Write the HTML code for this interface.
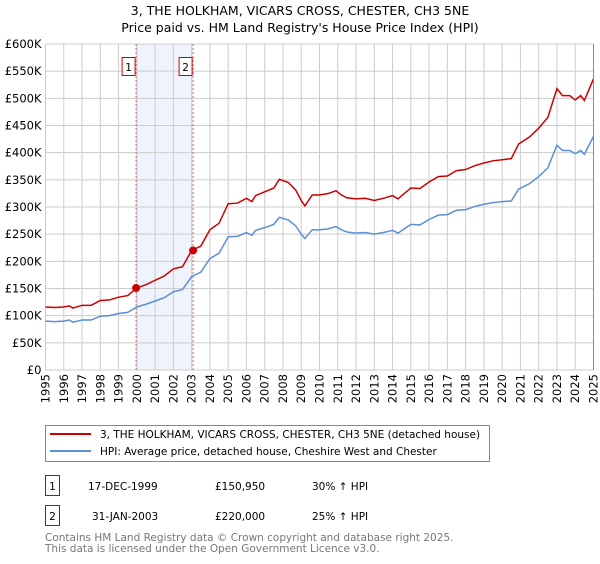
<!DOCTYPE html>
<html><head><meta charset="utf-8"><style>
body{margin:0;background:#fff;font-family:"DejaVu Sans","Liberation Sans",sans-serif;}
svg text{font-family:"DejaVu Sans","Liberation Sans",sans-serif;}
</style></head><body>
<svg id="chart" width="600" height="560" xmlns="http://www.w3.org/2000/svg">
<text x="300" y="15" text-anchor="middle" font-size="12.5">3, THE HOLKHAM, VICARS CROSS, CHESTER, CH3 5NE</text>
<text x="300" y="32" text-anchor="middle" font-size="12.5">Price paid vs. HM Land Registry's House Price Index (HPI)</text>
<g id="grid"></g><g id="series"></g><g id="axes"></g>
<rect x="45.5" y="425.5" width="444" height="36" fill="#fff" stroke="#888"/>
<line x1="50" y1="434" x2="91" y2="434" stroke="#cc0000" stroke-width="2"/>
<text x="100" y="438" font-size="10.5">3, THE HOLKHAM, VICARS CROSS, CHESTER, CH3 5NE (detached house)</text>
<line x1="50" y1="451" x2="91" y2="451" stroke="#5b8fd6" stroke-width="2"/>
<text x="100" y="455" font-size="10.5">HPI: Average price, detached house, Cheshire West and Chester</text>
<rect x="45.5" y="475.5" width="14" height="20" fill="#fff" stroke="#cc0000"/>
<text x="52.5" y="490" text-anchor="middle" font-size="10.5">1</text>
<text x="88" y="490" font-size="10.5">17-DEC-1999</text>
<text x="215" y="490" font-size="10.5">£150,950</text>
<text x="312" y="490" font-size="10.5">30% ↑ HPI</text>
<rect x="45.5" y="505.5" width="14" height="20" fill="#fff" stroke="#cc0000"/>
<text x="52.5" y="520" text-anchor="middle" font-size="10.5">2</text>
<text x="92" y="520" font-size="10.5">31-JAN-2003</text>
<text x="215" y="520" font-size="10.5">£220,000</text>
<text x="312" y="520" font-size="10.5">25% ↑ HPI</text>
<text x="45" y="541" font-size="10.5" fill="#777">Contains HM Land Registry data © Crown copyright and database right 2025.</text>
<text x="45" y="552" font-size="10.5" fill="#777">This data is licensed under the Open Government Licence v3.0.</text>
</svg>
<script>
const years=[1995,1995.5,1996,1996.3,1996.5,1997,1997.5,1998,1998.5,1999,1999.5,2000,2000.5,2001,2001.5,2002,2002.5,2003,2003.5,2004,2004.5,2005,2005.5,2006,2006.3,2006.5,2007,2007.5,2007.8,2008.3,2008.7,2009,2009.2,2009.6,2010,2010.5,2010.9,2011.2,2011.5,2012,2012.5,2013,2013.5,2014,2014.3,2015,2015.5,2016,2016.5,2017,2017.5,2018,2018.5,2019,2019.5,2020,2020.5,2020.9,2021.5,2022,2022.5,2023,2023.3,2023.7,2024,2024.3,2024.5,2025];
const hpiValues=[90,89,90,92,88,92,92,99,100,104,106,116,121,127,133,144,148,172,180,205,215,245,246,253,248,257,262,268,281,276,265,250,242,258,258,260,264,258,254,252,253,250,253,257,252,268,267,277,285,286,294,295,301,305,308,310,311,333,343,356,372,414,404,404,398,404,397,430];
const priceValues=[116,115,116,118,114,119,119,128,129,134,137,151,157,165,173,186,190,220,228,258,270,306,307,316,310,321,328,335,351,345,331,312,302,322,322,325,330,322,317,315,316,312,316,321,315,335,334,346,356,357,367,369,376,381,385,387,389,416,429,445,465,518,505,505,497,505,496,536];
const saleYears=[1999.96,2003.08];
const salePrices=[150.95,220];
const yTicks=[0,50,100,150,200,250,300,350,400,450,500,550,600];
const yTickLabels=["£0","£50K","£100K","£150K","£200K","£250K","£300K","£350K","£400K","£450K","£500K","£550K","£600K"];
const xTicks=[1995,1996,1997,1998,1999,2000,2001,2002,2003,2004,2005,2006,2007,2008,2009,2010,2011,2012,2013,2014,2015,2016,2017,2018,2019,2020,2021,2022,2023,2024,2025];
const NS="http://www.w3.org/2000/svg";
const L=45.5,R=593.5,T=44,B=370;
const X=y=>L+(y-1995)/30*(R-L);
const Y=v=>B-v/600*(B-T);
function mk(tag,attrs,parent){const e=document.createElementNS(NS,tag);for(const k in attrs)e.setAttribute(k,attrs[k]);parent.appendChild(e);return e;}
const grid=document.getElementById('grid'),ser=document.getElementById('series'),ax=document.getElementById('axes');
// shaded band
const band=mk('rect',{x:X(saleYears[0]),y:T,width:X(saleYears[1])-X(saleYears[0]),height:B-T,fill:'#eef3fc'},grid);


yTicks.forEach((v,i)=>{
  const g=mk('line',{x1:L,x2:R,y1:Y(v),y2:Y(v),stroke:'#cccccc','stroke-width':1},grid);
  
  
  const t=mk('text',{x:L-4,y:Y(v)+4,'text-anchor':'end','font-size':'11.5'},ax);
  t.textContent=yTickLabels[i];
  
  
});
xTicks.forEach(yr=>{
  const g=mk('line',{x1:X(yr),x2:X(yr),y1:T,y2:B,stroke:'#cccccc','stroke-width':1},grid);
  
  
  const t=mk('text',{transform:`translate(${X(yr)+4},${B+4}) rotate(-90)`,'text-anchor':'end','font-size':'11.5'},ax);
  t.textContent=yr;
  
  
});
saleYears.forEach((yr,i)=>{
  const l=mk('line',{x1:X(yr),x2:X(yr),y1:T,y2:B,stroke:'#dd6666','stroke-dasharray':'2,2','stroke-width':1},ser);
  
  
  const b=mk('rect',{x:X(yr)-14,y:57.5,width:13,height:18,fill:'#fff',stroke:'#cc0000'},ser);
  
  
  const t=mk('text',{x:X(yr)-7.5,y:71,'text-anchor':'middle','font-size':'10.5'},ser);
  t.textContent=String(i+1);
  
  
});
const hp=mk('polyline',{points:years.map((y,i)=>X(y)+','+Y(hpiValues[i])).join(' '),fill:'none',stroke:'#5b8fd6','stroke-width':1.5},ser);


const pp=mk('polyline',{points:years.map((y,i)=>X(y)+','+Y(priceValues[i])).join(' '),fill:'none',stroke:'#cc0000','stroke-width':1.5},ser);


saleYears.forEach((yr,i)=>{
  const c=mk('circle',{cx:X(yr),cy:Y(salePrices[i]),r:4,fill:'#cc0000'},ser);
  
  
});
const rl=mk('line',{x1:R,x2:R,y1:T,y2:B,stroke:'#888'},ax);


</script>
</body></html>
